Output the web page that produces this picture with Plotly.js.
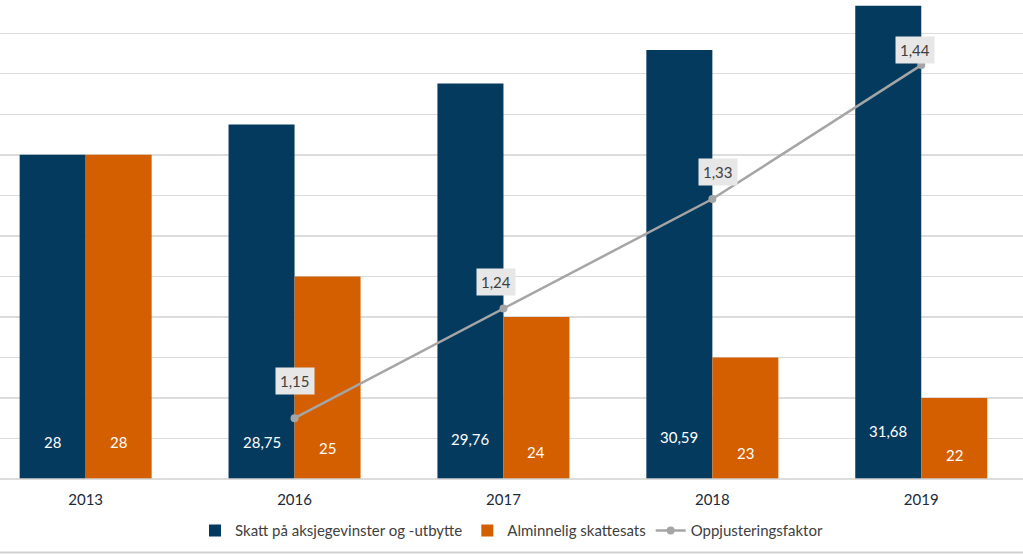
<!DOCTYPE html>
<html>
<head>
<meta charset="utf-8">
<script src="https://cdn.plot.ly/plotly-3.0.1.min.js"></script>
<style>
html,body{margin:0;padding:0;background:#fff;}
#chart{width:1023px;height:554px;}
</style>
</head>
<body>
<div id="chart"></div>
<script>
// ---- data ----
const years = ["2013", "2016", "2017", "2018", "2019"];
const skattAksje = [28, 28.75, 29.76, 30.59, 31.68];
const alminnelig = [28, 25, 24, 23, 22];
const oppjustering = [null, 1.15, 1.24, 1.33, 1.44];
const seriesNames = ["Skatt på aksjegevinster og -utbytte", "Alminnelig skattesats", "Oppjusteringsfaktor"];

// ---- styling ----
const navy = "#043a5e";
const orange = "#d45f00";
const grey = "#a5a5a5";
const FONT = "Lato, 'Open Sans', sans-serif";
// pixel nudges of the data labels, as placed in the original chart
const navyLabelShift = [37, 37, 40, 42, 48];
const orangeLabelShift = [37, 31, 27, 26, 24];
const lineLabelShift = [[0, 0], [0, 37], [-7, 27], [6, 27], [-6, 15]];

const traces = [
  {type: "bar", name: seriesNames[0], x: years, y: skattAksje,
   marker: {color: navy}, hoverinfo: "skip"},
  {type: "bar", name: seriesNames[1], x: years, y: alminnelig,
   marker: {color: orange}, hoverinfo: "skip"},
  {type: "scatter", mode: "lines+markers", name: seriesNames[2], x: years, y: oppjustering,
   yaxis: "y2", line: {color: grey, width: 2.5}, marker: {color: grey, size: 8},
   connectgaps: false, hoverinfo: "skip"}
];

const fmt = v => String(v).replace(".", ",");
const annotations = [];
years.forEach((yr, i) => {
  // category axis: annotation x given as the category's serial index
  annotations.push({x: i, y: 20, xref: "x", yref: "y", xshift: -33, yshift: navyLabelShift[i],
    text: fmt(skattAksje[i]), showarrow: false, font: {family: FONT, size: 15, color: "#ffffff"}});
  annotations.push({x: i, y: 20, xref: "x", yref: "y", xshift: 33, yshift: orangeLabelShift[i],
    text: fmt(alminnelig[i]), showarrow: false, font: {family: FONT, size: 15, color: "#ffffff"}});
  if (oppjustering[i] !== null) {
    annotations.push({x: i, y: oppjustering[i], xref: "x", yref: "y2",
      xshift: lineLabelShift[i][0], yshift: lineLabelShift[i][1],
      text: fmt(oppjustering[i]), showarrow: false, bgcolor: "#e7e7e7", borderpad: 4,
      font: {family: FONT, size: 15, color: "#404040"}});
  }
});

const layout = {
  width: 1023, height: 554,
  margin: {l: 0, r: 0, t: 0, b: 74.6, pad: 0},
  paper_bgcolor: "#ffffff", plot_bgcolor: "#ffffff",
  separators: ", ",
  font: {family: FONT, color: "#404040"},
  barmode: "group", bargap: 0.368, bargroupgap: 0,
  showlegend: true,
  legend: {orientation: "h", x: 0.5, xanchor: "center", y: -0.108, yanchor: "middle",
    font: {family: FONT, size: 15, color: "#404040"}, itemwidth: 30, traceorder: "normal"},
  xaxis: {type: "category", range: [-0.410, 4.487], showgrid: false, zeroline: false,
    showline: false, ticks: "", ticklabelstandoff: 10,
    tickfont: {family: FONT, size: 15, color: "#1a2a3a"},
    fixedrange: true},
  yaxis: {range: [20, 31.822], dtick: 1, showticklabels: false, gridcolor: "#dcdcdc", gridwidth: 1.3,
    zeroline: false, showline: false, ticks: "", fixedrange: true},
  yaxis2: {range: [1.1, 1.4935], overlaying: "y", side: "right", showgrid: false, zeroline: false,
    showticklabels: false, showline: false, ticks: "", fixedrange: true},
  annotations: annotations,
  shapes: [
    {type: "line", xref: "paper", yref: "paper", x0: 0, x1: 1, y0: 0, y1: 0,
     line: {color: "#d0d0d0", width: 1.5}},
    {type: "line", xref: "paper", yref: "paper", x0: 0, x1: 1, y0: -0.1535, y1: -0.1535,
     line: {color: "#d0d0d0", width: 2}}
  ]
};

Plotly.newPlot("chart", traces, layout, {displayModeBar: false, staticPlot: true});
</script>
</body>
</html>
